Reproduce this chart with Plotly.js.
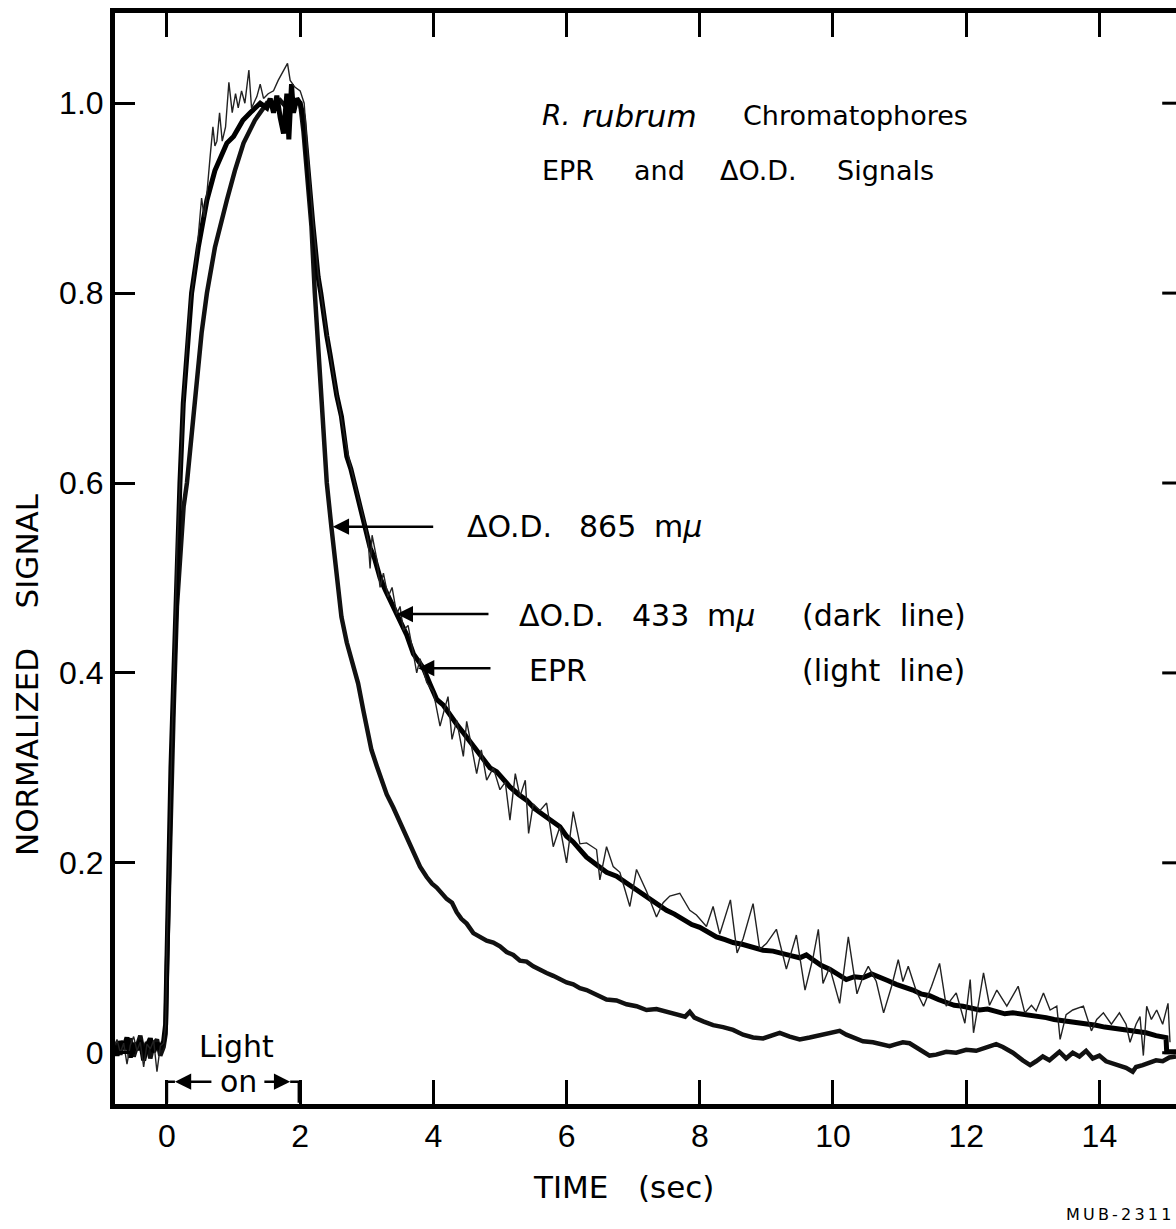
<!DOCTYPE html>
<html>
<head>
<meta charset="utf-8">
<script src="https://cdn.plot.ly/plotly-3.0.1.min.js"></script>
<style>
html,body{margin:0;padding:0;background:#fff;overflow:hidden}
#chart{width:1176px;height:1229px}
</style>
</head>
<body>
<div id="chart"></div>
<script>
// ---- Data ----
const time865 = [-0.8,-0.75,-0.7,-0.65,-0.6,-0.55,-0.5,-0.45,-0.4,-0.35,-0.3,-0.25,-0.2,-0.15,-0.1,-0.05,
  -0.02,0.0,0.03,0.06,0.1,0.15,0.2,0.25,0.3,0.35,0.42,0.52,0.6,0.72,0.9,1.02,1.15,1.32,1.5,1.6,1.7,1.8,1.9,
  2.0,2.05,2.1,2.17,2.22,2.27,2.33,2.4,2.47,2.55,2.62,2.7,2.78,2.87,2.95,3.0,3.07,3.15,3.22,3.3,3.4,3.5,3.58,
  3.65,3.72,3.8,3.9,3.98,4.05,4.12,4.2,4.28,4.35,4.42,4.5,4.6,4.7,4.8,4.9,5.0,5.1,5.2,5.3,5.4,5.5,5.6,5.7,
  5.8,5.9,6.0,6.1,6.2,6.3,6.45,6.6,6.75,6.9,7.05,7.2,7.35,7.5,7.65,7.78,7.85,7.92,8.05,8.2,8.35,8.5,8.65,
  8.8,8.95,9.1,9.2,9.35,9.5,9.65,9.8,9.95,10.1,10.2,10.3,10.45,10.6,10.75,10.85,10.95,11.05,11.15,11.3,
  11.45,11.55,11.7,11.85,12.0,12.15,12.3,12.45,12.55,12.7,12.85,12.96,13.05,13.15,13.25,13.4,13.5,13.6,
  13.7,13.8,13.9,14.0,14.1,14.2,14.3,14.4,14.5,14.55,14.65,14.75,14.85,14.95,15.05,15.15];
const sig865 = [0.004,0.010,-0.002,0.012,0.003,0.015,-0.004,0.008,0.018,0.000,0.011,-0.006,0.009,0.014,-0.003,0.006,
  0.02,0.09,0.18,0.27,0.36,0.47,0.53,0.575,0.60,0.635,0.684,0.758,0.80,0.848,0.898,0.929,0.958,0.982,1.0,0.998,1.003,0.995,1.0,
  1.0,0.97,0.93,0.87,0.80,0.74,0.675,0.60,0.553,0.50,0.459,0.432,0.41,0.389,0.36,0.343,0.319,0.302,0.288,0.272,0.258,0.242,0.232,
  0.218,0.209,0.196,0.185,0.178,0.174,0.169,0.162,0.158,0.148,0.141,0.136,0.126,0.122,0.118,0.116,0.112,0.106,0.103,0.097,0.096,0.091,0.087,0.084,
  0.081,0.077,0.074,0.072,0.068,0.066,0.061,0.056,0.055,0.051,0.049,0.045,0.046,0.043,0.040,0.038,0.043,0.037,0.033,0.029,0.027,0.024,0.019,
  0.016,0.015,0.018,0.021,0.017,0.014,0.016,0.018,0.020,0.023,0.019,0.016,0.012,0.011,0.009,0.007,0.009,0.011,0.010,0.004,
  -0.003,-0.002,0.001,0.000,0.003,0.002,0.005,0.009,0.006,0.000,-0.008,-0.013,-0.009,-0.004,-0.008,0.001,-0.006,0.000,
  -0.004,0.002,-0.006,-0.003,-0.009,-0.011,-0.013,-0.016,-0.020,-0.015,-0.013,-0.010,-0.008,-0.009,-0.005,-0.004];

const time433 = [-0.8,-0.75,-0.7,-0.65,-0.6,-0.55,-0.5,-0.45,-0.4,-0.35,-0.3,-0.25,-0.2,-0.15,-0.1,-0.05,
  -0.02,0.0,0.03,0.06,0.1,0.13,0.155,0.195,0.245,0.32,0.37,0.47,0.6,0.72,0.9,1.0,1.14,1.25,1.4,1.5,1.55,1.6,1.65,1.7,1.75,1.8,1.83,1.87,1.9,1.95,
  2.0,2.05,2.1,2.15,2.19,2.23,2.27,2.31,2.35,2.4,2.45,2.5,2.55,2.62,2.7,2.76,2.82,2.9,2.97,3.05,3.12,3.2,3.28,3.36,3.45,3.52,3.6,3.7,3.78,3.85,3.95,
  4.05,4.15,4.25,4.35,4.45,4.55,4.65,4.75,4.85,4.95,5.05,5.15,5.28,5.4,5.52,5.65,5.78,5.9,6.0,6.1,6.2,6.3,6.45,6.6,6.75,6.9,7.05,7.2,7.35,7.5,
  7.62,7.75,7.88,8.0,8.12,8.25,8.38,8.5,8.65,8.8,8.95,9.1,9.25,9.38,9.5,9.6,9.7,9.82,9.95,10.08,10.2,10.32,10.45,10.58,10.7,10.82,10.95,
  11.08,11.2,11.32,11.45,11.58,11.7,11.82,11.95,12.08,12.2,12.32,12.45,12.58,12.7,12.82,12.95,13.08,13.2,13.32,13.45,13.58,13.7,13.82,
  13.95,14.08,14.2,14.32,14.45,14.58,14.7,14.85,15.0,15.01,15.15];
const sig433 = [0.008,-0.003,0.012,0.005,0.016,-0.005,0.010,0.003,0.013,-0.008,0.007,0.015,0.001,0.010,0.004,0.012,
  0.03,0.11,0.21,0.30,0.39,0.46,0.519,0.60,0.684,0.758,0.80,0.848,0.898,0.929,0.958,0.965,0.982,0.99,1.0,0.995,1.005,0.99,1.008,0.985,0.968,1.01,0.962,1.02,0.99,1.005,
  1.0,0.985,0.95,0.905,0.873,0.84,0.817,0.80,0.775,0.755,0.735,0.71,0.692,0.67,0.628,0.615,0.598,0.575,0.553,0.532,0.52,0.50,0.487,0.475,0.463,0.452,0.44,0.42,0.413,0.405,0.388,
  0.372,0.366,0.355,0.346,0.337,0.328,0.32,0.31,0.30,0.296,0.287,0.28,0.272,0.266,0.257,0.25,0.244,0.238,0.228,0.222,0.214,0.206,0.198,0.19,0.186,0.179,0.172,0.165,0.158,0.15,
  0.146,0.14,0.135,0.132,0.127,0.122,0.119,0.116,0.114,0.111,0.108,0.107,0.105,0.102,0.100,0.103,0.098,0.092,0.088,0.082,0.077,0.080,0.079,0.083,0.08,0.076,0.072,
  0.069,0.066,0.062,0.06,0.056,0.053,0.050,0.049,0.047,0.045,0.046,0.044,0.041,0.042,0.041,0.040,0.038,0.037,0.035,0.034,0.032,0.031,0.030,
  0.029,0.027,0.026,0.025,0.024,0.022,0.021,0.018,0.016,0.001,0.001];

const timeEPR = [-0.8,-0.75,-0.7,-0.65,-0.6,-0.55,-0.5,-0.45,-0.4,-0.35,-0.3,-0.25,-0.2,-0.15,-0.1,-0.05,
  -0.02,0.0,0.05,0.1,0.15,0.2,0.25,0.3,0.35,0.4,0.455,0.49,0.52,0.56,0.6,0.65,0.69,0.72,0.75,0.79,0.83,0.88,0.93,0.98,1.03,1.07,1.12,1.17,1.23,1.27,
  1.35,1.4,1.45,1.52,1.6,1.67,1.75,1.81,1.85,1.92,2.0,2.06,2.1,2.19,2.27,2.35,2.45,2.52,2.57,2.62,2.68,2.75,2.82,2.9,2.97,3.02,3.05,3.08,3.15,3.2,3.25,
  3.32,3.38,3.45,3.5,3.55,3.62,3.7,3.75,3.8,3.9,4.0,4.1,4.16,4.22,4.28,4.35,4.45,4.5,4.58,4.65,4.72,4.8,4.9,5.0,5.08,5.15,5.23,5.3,5.38,5.43,5.5,
  5.6,5.7,5.8,5.9,6.0,6.1,6.2,6.3,6.45,6.5,6.6,6.7,6.8,6.95,7.05,7.2,7.35,7.45,7.55,7.7,7.85,7.95,8.1,8.2,8.3,8.46,8.56,8.65,8.8,8.9,9.0,9.15,
  9.3,9.45,9.58,9.7,9.78,9.85,9.95,10.1,10.23,10.36,10.45,10.53,10.65,10.76,10.88,10.98,11.05,11.13,11.25,11.36,11.48,11.6,11.7,11.85,11.98,
  12.06,12.11,12.18,12.26,12.35,12.46,12.61,12.7,12.78,12.88,12.98,13.05,13.16,13.26,13.36,13.41,13.5,13.6,13.76,13.88,13.96,14.06,14.18,
  14.3,14.4,14.46,14.55,14.61,14.66,14.71,14.78,14.86,14.95,15.03,15.06];
const sigEPR = [0.006,0.014,0.000,0.010,-0.012,0.008,0.017,0.002,0.011,-0.015,0.009,0.004,0.013,-0.020,0.007,0.010,
  0.03,0.12,0.26,0.40,0.53,0.61,0.69,0.745,0.79,0.815,0.848,0.876,0.90,0.88,0.905,0.945,0.975,0.955,0.96,0.99,0.96,0.975,1.022,0.99,1.01,0.995,1.013,1.0,1.035,0.995,
  1.007,1.02,1.005,1.01,1.013,1.024,1.035,1.042,1.024,1.017,1.013,1.0,0.96,0.88,0.82,0.78,0.735,0.705,0.685,0.665,0.645,0.62,0.60,0.575,0.558,0.54,0.51,0.545,0.52,0.49,0.505,
  0.48,0.49,0.462,0.47,0.445,0.45,0.42,0.40,0.415,0.39,0.38,0.344,0.36,0.375,0.33,0.35,0.312,0.349,0.32,0.294,0.319,0.287,0.30,0.277,0.285,0.245,0.294,0.27,0.287,0.231,0.262,
  0.255,0.263,0.217,0.238,0.20,0.254,0.22,0.221,0.214,0.182,0.217,0.196,0.19,0.154,0.193,0.17,0.143,0.158,0.165,0.168,0.15,0.145,0.133,0.154,0.125,0.161,0.105,0.12,0.157,0.109,0.115,0.13,
  0.088,0.124,0.066,0.10,0.13,0.073,0.09,0.052,0.122,0.062,0.08,0.091,0.075,0.042,0.07,0.098,0.075,0.091,0.065,0.049,0.07,0.094,0.049,0.063,0.031,
  0.077,0.021,0.05,0.084,0.05,0.066,0.049,0.06,0.07,0.042,0.05,0.044,0.063,0.045,0.049,0.014,0.04,0.045,0.049,0.023,0.035,0.042,0.03,
  0.042,0.03,0.011,0.03,0.038,-0.003,0.049,0.035,0.045,0.03,0.052,0.011];

const xTicks = [0,2,4,6,8,10,12,14];
const xTickText = ['0','2','4','6','8','10','12','14'];
const yTicks = [0,0.2,0.4,0.6,0.8,1.0];
const yTickText = ['0','0.2','0.4','0.6','0.8','1.0'];

// ---- Traces ----
const traces = [
  {x: time865, y: sig865, type: 'scatter', mode: 'lines', name: 'ΔO.D. 865 mμ',
   line: {color: '#111', width: 4.5}, hoverinfo: 'skip'},
  {x: time433, y: sig433, type: 'scatter', mode: 'lines', name: 'ΔO.D. 433 mμ (dark line)',
   line: {color: '#000', width: 5}, hoverinfo: 'skip'},
  {x: timeEPR, y: sigEPR, type: 'scatter', mode: 'lines', name: 'EPR (light line)',
   line: {color: '#222', width: 1.4}, hoverinfo: 'skip'}
];

const TXT = 'DejaVu Sans, Liberation Sans, sans-serif';
const TICKF = {family: 'Liberation Sans, DejaVu Sans, sans-serif', size: 32, color: '#000'};

function lbl(x, y, text, size) {
  return {x: x, y: y, xref: 'x', yref: 'y', text: text, showarrow: false,
          xanchor: 'left', yanchor: 'middle', font: {family: TXT, size: size, color: '#000'}};
}
function arrow(xHead, xTail, y) {
  return {x: xHead, y: y, ax: xTail, ay: y, xref: 'x', yref: 'y', axref: 'x', ayref: 'y',
          text: '', showarrow: true, arrowhead: 2, arrowsize: 1.3, arrowwidth: 2.5, arrowcolor: '#000'};
}

const annotations = [
  lbl(5.60, 0.987, '<i>R.</i>', 28),
  lbl(6.20, 0.987, '<i>rubrum</i>', 31),
  lbl(8.62, 0.987, 'Chromatophores', 27),
  lbl(5.60, 0.929, 'EPR', 27),
  lbl(6.98, 0.929, 'and', 27),
  lbl(8.27, 0.929, 'ΔO.D.', 27),
  lbl(10.03, 0.929, 'Signals', 27),
  lbl(4.47, 0.554, 'ΔO.D.', 30),
  lbl(6.16, 0.554, '865', 30),
  lbl(7.28, 0.554, 'm<i>μ</i>', 30),
  lbl(5.26, 0.461, 'ΔO.D.', 30),
  lbl(6.95, 0.461, '433', 30),
  lbl(8.08, 0.461, 'm<i>μ</i>', 30),
  lbl(9.50, 0.461, '(dark\u00a0\u00a0line)', 30),
  lbl(5.41, 0.403, 'EPR', 30),
  lbl(9.50, 0.403, '(light\u00a0\u00a0line)', 30),
  arrow(2.49, 4.02, 0.554),
  arrow(3.45, 4.85, 0.462),
  arrow(3.77, 4.88, 0.405),
  {x: 1.05, y: 0.0063, xref: 'x', yref: 'y', text: 'Light', showarrow: false,
   xanchor: 'center', yanchor: 'middle', font: {family: TXT, size: 30, color: '#000'}},
  {x: 1.07, y: -0.0305, xref: 'x', yref: 'y', text: 'on', showarrow: false,
   xanchor: 'center', yanchor: 'middle', font: {family: TXT, size: 30, color: '#000'}},
  arrow(0.12, 0.69, -0.0305),
  arrow(1.85, 1.44, -0.0305),
  {x: 0.4788, y: -0.0761, xref: 'paper', yref: 'paper', text: 'TIME\u00a0\u00a0\u00a0(sec)', showarrow: false,
   xanchor: 'center', yanchor: 'middle', font: {family: TXT, size: 31, color: '#000'}},
  {x: -0.0829, y: 0.3932, xref: 'paper', yref: 'paper', text: 'NORMALIZED\u00a0\u00a0\u00a0\u00a0SIGNAL', showarrow: false,
   textangle: -90, xanchor: 'center', yanchor: 'middle', font: {family: TXT, size: 31, color: '#000'}},
  {x: 0.997, y: -0.1017, xref: 'paper', yref: 'paper',
   text: 'M\u2009U\u2009B\u2009-\u20092\u20093\u20091\u20091', showarrow: false,
   xanchor: 'right', yanchor: 'middle', font: {family: TXT, size: 16, color: '#000'}}
];

// right-hand inward ticks (axis itself lies beyond the cropped edge)
const shapes = yTicks.map(v => ({type: 'line', xref: 'paper', yref: 'y', x0: 1, x1: 0.987, y0: v, y1: v,
  line: {color: '#000', width: 3}}));
// "Light on" bracket ends
shapes.push({type: 'path', xref: 'x', yref: 'y', path: 'M 0,-0.0526 L 0,-0.0305 L 0.12,-0.0305',
  line: {color: '#000', width: 2.5}});
shapes.push({type: 'path', xref: 'x', yref: 'y', path: 'M 1.85,-0.0305 L 1.98,-0.0305 L 1.98,-0.0526',
  line: {color: '#000', width: 2.5}});

const layout = {
  width: 1176, height: 1229, autosize: false,
  margin: {l: 115, r: 0, t: 13, b: 125, pad: 0},
  paper_bgcolor: '#fff', plot_bgcolor: '#fff',
  showlegend: false,
  font: {family: TXT, color: '#000'},
  xaxis: {range: [-0.78, 15.15], tickmode: 'array', tickvals: xTicks, ticktext: xTickText,
    ticks: 'inside', ticklen: 24, tickwidth: 3, tickcolor: '#000',
    showline: true, linewidth: 5, linecolor: '#000', mirror: 'ticks',
    showgrid: false, zeroline: false, tickfont: TICKF, fixedrange: true},
  yaxis: {range: [-0.054, 1.095], tickmode: 'array', tickvals: yTicks, ticktext: yTickText,
    ticks: 'inside', ticklen: 20, tickwidth: 3, tickcolor: '#000',
    showline: true, linewidth: 5, linecolor: '#000', mirror: false,
    showgrid: false, zeroline: false, tickfont: TICKF, fixedrange: true},
  annotations: annotations,
  shapes: shapes
};

Plotly.newPlot('chart', traces, layout, {staticPlot: true, displayModeBar: false});
</script>
</body>
</html>
